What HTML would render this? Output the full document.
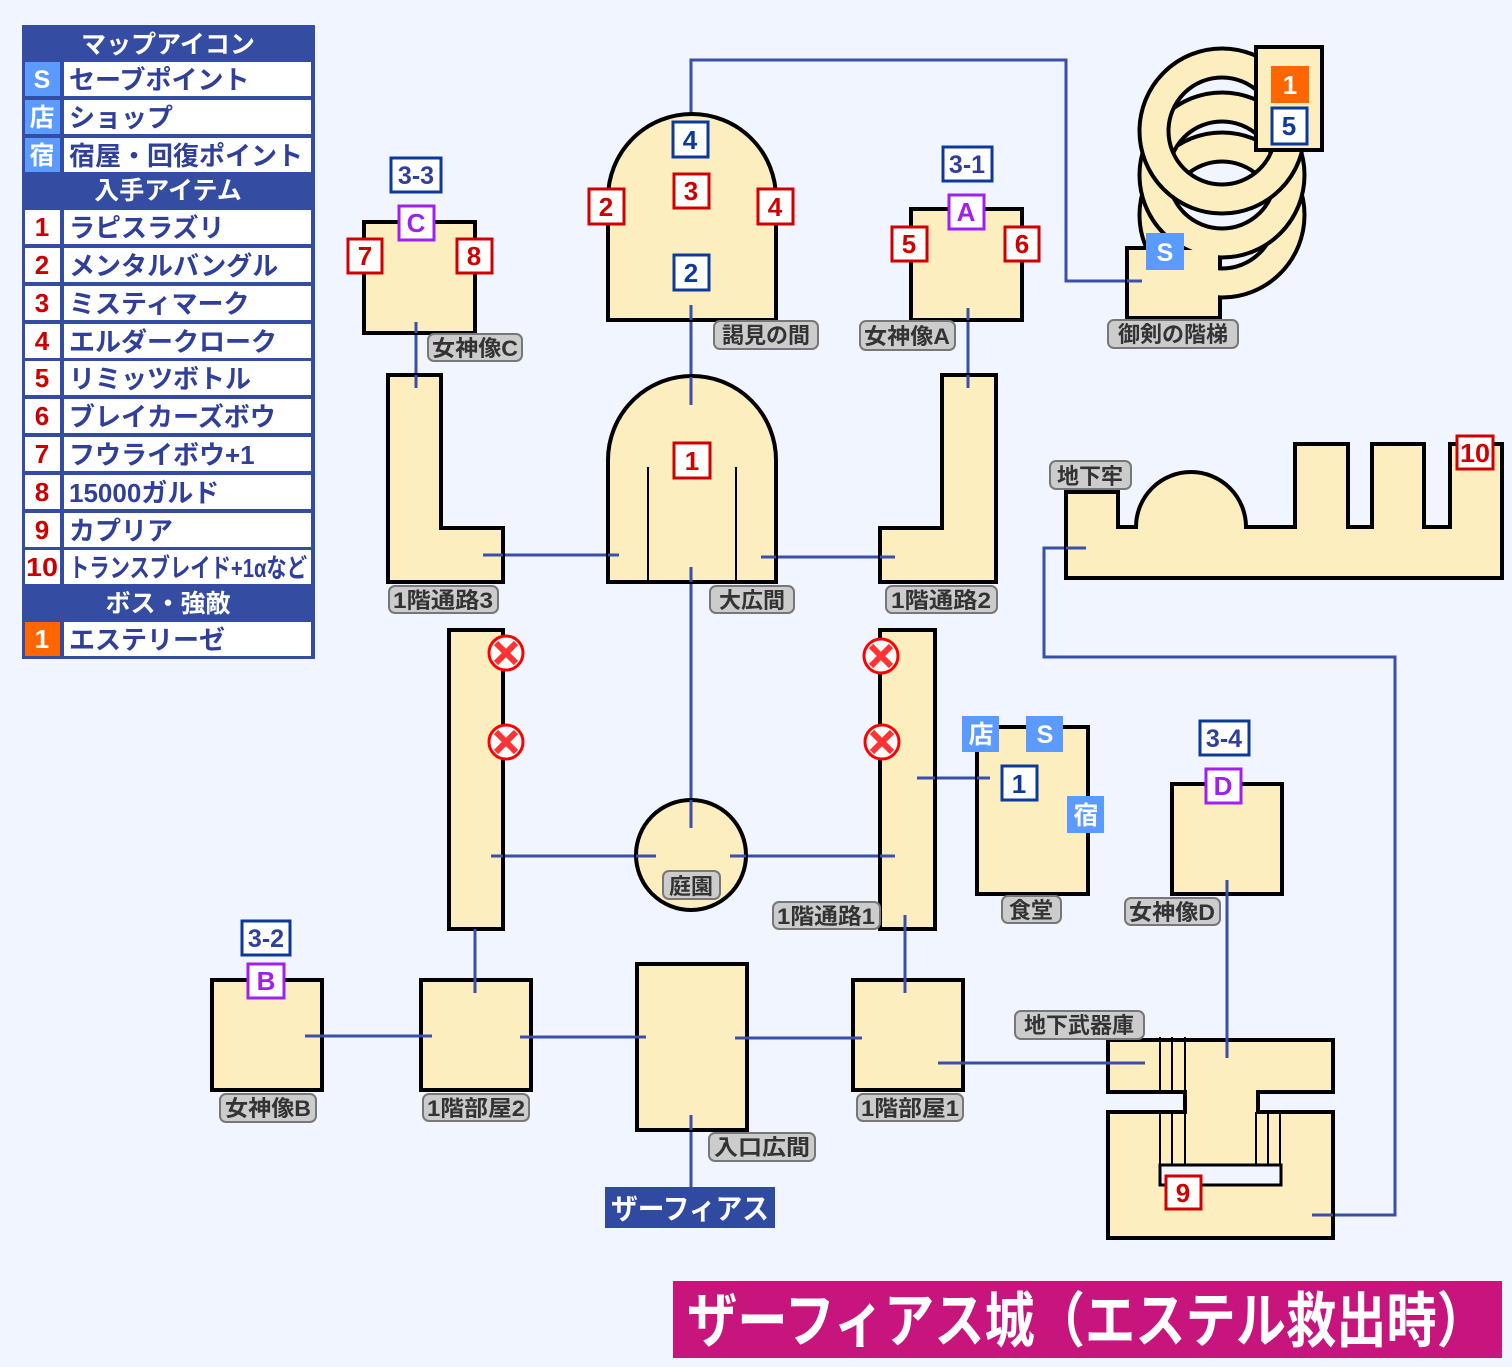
<!DOCTYPE html>
<html><head><meta charset="utf-8">
<style>
html,body{margin:0;padding:0;background:#f0f5ff;}
svg{display:block;}
text{font-family:"Liberation Sans","Noto Sans CJK JP",sans-serif;font-weight:bold;}
</style></head><body>
<svg width="1512" height="1367" viewBox="0 0 1512 1367" xmlns="http://www.w3.org/2000/svg">
<rect width="1512" height="1367" fill="#f0f5ff"/>

<!-- Legend -->
<rect x="22" y="25" width="293" height="634" fill="#344ca2"/>
<g font-size="25" fill="#ffffff" text-anchor="middle">
<text x="168" y="53">マップアイコン</text>
<text x="168" y="199">入手アイテム</text>
<text x="168" y="612">ボス・強敵</text>
</g>
<g fill="#ffffff">
<rect x="64" y="62" width="247" height="34"/>
<rect x="64" y="100" width="247" height="34"/>
<rect x="64" y="138" width="247" height="34"/>
</g>
<g fill="#5b9bff">
<rect x="25" y="62" width="35" height="34"/>
<rect x="25" y="100" width="35" height="34"/>
<rect x="25" y="138" width="35" height="34"/>
</g>
<g font-size="25" fill="#ffffff" text-anchor="middle">
<text x="42" y="88">S</text><text x="42" y="126">店</text><text x="42" y="164">宿</text>
</g>
<g font-size="26" fill="#2f3f9a">
<text x="69" y="89">セーブポイント</text>
<text x="69" y="127">ショップ</text>
<text x="69" y="165">宿屋・回復ポイント</text>
</g>
<g fill="#ffffff">
<rect x="25" y="210" width="35" height="34"/><rect x="64" y="210" width="247" height="34"/>
<rect x="25" y="248" width="35" height="34"/><rect x="64" y="248" width="247" height="34"/>
<rect x="25" y="286" width="35" height="34"/><rect x="64" y="286" width="247" height="34"/>
<rect x="25" y="324" width="35" height="34"/><rect x="64" y="324" width="247" height="34"/>
<rect x="25" y="361" width="35" height="34"/><rect x="64" y="361" width="247" height="34"/>
<rect x="25" y="399" width="35" height="34"/><rect x="64" y="399" width="247" height="34"/>
<rect x="25" y="437" width="35" height="34"/><rect x="64" y="437" width="247" height="34"/>
<rect x="25" y="475" width="35" height="34"/><rect x="64" y="475" width="247" height="34"/>
<rect x="25" y="513" width="35" height="34"/><rect x="64" y="513" width="247" height="34"/>
<rect x="25" y="550" width="35" height="34"/><rect x="64" y="550" width="247" height="34"/>
<rect x="64" y="622" width="247" height="34"/>
</g>
<rect x="25" y="622" width="35" height="34" fill="#ff6600"/>
<g font-size="26" fill="#cc0000" text-anchor="middle">
<text x="42" y="236">1</text><text x="42" y="274">2</text><text x="42" y="312">3</text>
<text x="42" y="350">4</text><text x="42" y="387">5</text><text x="42" y="425">6</text>
<text x="42" y="463">7</text><text x="42" y="501">8</text><text x="42" y="539">9</text>
<text x="42" y="576" textLength="32" lengthAdjust="spacingAndGlyphs">10</text>
</g>
<text x="42" y="648" font-size="26" fill="#fff" text-anchor="middle">1</text>
<g font-size="26" fill="#2f3f9a">
<text x="69" y="237">ラピスラズリ</text>
<text x="69" y="275">メンタルバングル</text>
<text x="69" y="313">ミスティマーク</text>
<text x="69" y="351">エルダークローク</text>
<text x="69" y="388">リミッツボトル</text>
<text x="69" y="426">ブレイカーズボウ</text>
<text x="69" y="464">フウライボウ+1</text>
<text x="69" y="502">15000ガルド</text>
<text x="69" y="540">カプリア</text>
<text x="69" y="577" textLength="238" lengthAdjust="spacingAndGlyphs">トランスブレイド+1αなど</text>
<text x="69" y="649">エステリーゼ</text>
</g>

<!-- Connectors -->
<g stroke="#3a4fa8" stroke-width="3" fill="none">
<polyline points="691,127 691,60 1066,60 1066,281 1142,281"/>
<line x1="691" y1="305" x2="691" y2="405"/>
<line x1="691" y1="567" x2="691" y2="828"/>
<line x1="416" y1="322" x2="416" y2="388"/>
<line x1="968" y1="308" x2="968" y2="388"/>
<line x1="483" y1="555" x2="619" y2="555"/>
<line x1="761" y1="557" x2="895" y2="557"/>
<line x1="491" y1="856" x2="656" y2="856"/>
<line x1="730" y1="856" x2="895" y2="856"/>
<line x1="917" y1="778" x2="990" y2="778"/>
<line x1="475" y1="929" x2="475" y2="993"/>
<line x1="905" y1="915" x2="905" y2="993"/>
<line x1="305" y1="1036" x2="432" y2="1036"/>
<line x1="520" y1="1037" x2="646" y2="1037"/>
<line x1="735" y1="1038" x2="862" y2="1038"/>
<line x1="938" y1="1063" x2="1145" y2="1063"/>
<line x1="1227" y1="880" x2="1227" y2="1058"/>
<polyline points="1086,548 1044,548 1044,657 1395,657 1395,1215 1312,1215"/>
<line x1="691" y1="1115" x2="691" y2="1190"/>
</g>

<!-- Rooms -->
<g fill="#fdeec0" stroke="#000" stroke-width="4">
<path d="M608,320 V198 A84,84 0 0 1 776,198 V320 Z"/>
<path d="M608,582 V460 A84,84 0 0 1 776,460 V582 Z"/>
<rect x="364" y="222" width="111" height="111"/>
<path d="M388,375 H441 V528 H503 V582 H388 Z"/>
<rect x="911" y="209" width="111" height="111"/>
<path d="M942,375 H996 V582 H880 V528 H942 Z"/>
<path d="M1066,578 V492 H1118 V527 H1136 A55,55 0 0 1 1246,527 H1295 V444 H1348 V527 H1372 V444 H1424 V527 H1450 V444 H1502 V578 Z"/>
<rect x="449" y="630" width="54" height="299"/>
<rect x="880" y="630" width="55" height="299"/>
<circle cx="691" cy="855" r="55"/>
<rect x="977" y="727" width="111" height="167"/>
<rect x="1172" y="784" width="110" height="110"/>
<rect x="212" y="980" width="110" height="110"/>
<rect x="421" y="980" width="110" height="110"/>
<rect x="637" y="964" width="110" height="166"/>
<rect x="853" y="980" width="110" height="110"/>
<path d="M1108,1040 H1333 V1092 H1258 V1112 H1333 V1238 H1108 V1112 H1185 V1092 H1108 Z"/>
</g>
<rect x="1160" y="1165" width="121" height="20" fill="#f0f5ff" stroke="#000" stroke-width="3"/>
<g stroke="#000" stroke-width="2">
<line x1="648" y1="467" x2="648" y2="582"/><line x1="736" y1="467" x2="736" y2="582"/>
<line x1="1160" y1="1037" x2="1160" y2="1092"/><line x1="1172" y1="1037" x2="1172" y2="1092"/><line x1="1185" y1="1037" x2="1185" y2="1092"/>
<line x1="1160" y1="1112" x2="1160" y2="1165"/><line x1="1172" y1="1112" x2="1172" y2="1165"/><line x1="1185" y1="1112" x2="1185" y2="1165"/>
<line x1="1256" y1="1112" x2="1256" y2="1165"/><line x1="1268" y1="1112" x2="1268" y2="1165"/><line x1="1280" y1="1112" x2="1280" y2="1165"/>
</g>
<g stroke="#3a4fa8" stroke-width="3">
<line x1="691" y1="305" x2="691" y2="320"/>
<line x1="691" y1="377" x2="691" y2="405"/>
<line x1="691" y1="567" x2="691" y2="582"/>
<line x1="691" y1="800" x2="691" y2="828"/>
<line x1="416" y1="322" x2="416" y2="333"/><line x1="416" y1="375" x2="416" y2="388"/>
<line x1="968" y1="308" x2="968" y2="320"/><line x1="968" y1="375" x2="968" y2="388"/>
<line x1="483" y1="555" x2="503" y2="555"/><line x1="608" y1="555" x2="619" y2="555"/>
<line x1="761" y1="557" x2="776" y2="557"/><line x1="880" y1="557" x2="895" y2="557"/>
<line x1="491" y1="856" x2="503" y2="856"/><line x1="636" y1="856" x2="656" y2="856"/>
<line x1="730" y1="856" x2="746" y2="856"/><line x1="880" y1="856" x2="895" y2="856"/>
<line x1="917" y1="778" x2="935" y2="778"/><line x1="977" y1="778" x2="990" y2="778"/>
<line x1="475" y1="929" x2="475" y2="993"/><line x1="905" y1="915" x2="905" y2="993"/>
<line x1="305" y1="1036" x2="432" y2="1036"/><line x1="520" y1="1037" x2="646" y2="1037"/>
<line x1="735" y1="1038" x2="862" y2="1038"/><line x1="938" y1="1063" x2="1145" y2="1063"/>
<line x1="1227" y1="880" x2="1227" y2="1058"/>
<line x1="1066" y1="548" x2="1086" y2="548"/><line x1="1312" y1="1215" x2="1333" y2="1215"/>
<line x1="691" y1="1115" x2="691" y2="1130"/>
</g>

<!-- Spiral staircase -->
<g>
<path d="M1127,318 V248 H1220 V318 Z" fill="#fdeec0" stroke="#000" stroke-width="4"/>
<circle cx="1222" cy="215" r="68" fill="none" stroke="#000" stroke-width="33"/>
<circle cx="1222" cy="215" r="68" fill="none" stroke="#fdeec0" stroke-width="25"/>
<circle cx="1222" cy="175" r="68" fill="none" stroke="#000" stroke-width="33"/>
<circle cx="1222" cy="175" r="68" fill="none" stroke="#fdeec0" stroke-width="25"/>
<circle cx="1222" cy="131" r="68" fill="none" stroke="#000" stroke-width="33"/>
<circle cx="1222" cy="131" r="68" fill="none" stroke="#fdeec0" stroke-width="25"/>
<rect x="1129" y="250" width="89" height="66" fill="#fdeec0"/>
<rect x="1256" y="47" width="66" height="103" fill="#fdeec0" stroke="#000" stroke-width="4"/>
</g>
<line x1="1127" y1="281" x2="1142" y2="281" stroke="#3a4fa8" stroke-width="3"/>

<!-- Labels -->
<g fill="#cccccc" stroke="#777" stroke-width="2">
<rect x="428" y="334" width="94" height="27" rx="6"/>
<rect x="714" y="321" width="104" height="28" rx="6"/>
<rect x="860" y="321" width="95" height="29" rx="6"/>
<rect x="1108" y="320" width="130" height="28" rx="6"/>
<rect x="1050" y="461" width="81" height="28" rx="6"/>
<rect x="389" y="586" width="109" height="27" rx="6"/>
<rect x="710" y="586" width="84" height="27" rx="6"/>
<rect x="886" y="586" width="111" height="27" rx="6"/>
<rect x="663" y="871" width="57" height="28" rx="6"/>
<rect x="773" y="902" width="107" height="27" rx="6"/>
<rect x="1002" y="896" width="59" height="27" rx="6"/>
<rect x="1125" y="898" width="95" height="27" rx="6"/>
<rect x="220" y="1094" width="96" height="28" rx="6"/>
<rect x="423" y="1094" width="106" height="27" rx="6"/>
<rect x="857" y="1094" width="106" height="27" rx="6"/>
<rect x="709" y="1133" width="106" height="28" rx="6"/>
<rect x="1015" y="1011" width="129" height="28" rx="6"/>
</g>
<g font-size="22" fill="#333" text-anchor="middle">
<text x="475" y="356" textLength="86" lengthAdjust="spacingAndGlyphs">女神像C</text>
<text x="766" y="343">謁見の間</text>
<text x="907" y="344" textLength="86" lengthAdjust="spacingAndGlyphs">女神像A</text>
<text x="1173" y="342">御剣の階梯</text>
<text x="1090" y="484">地下牢</text>
<text x="443" y="608" textLength="100" lengthAdjust="spacingAndGlyphs">1階通路3</text>
<text x="752" y="608">大広間</text>
<text x="941" y="608" textLength="100" lengthAdjust="spacingAndGlyphs">1階通路2</text>
<text x="691" y="894">庭園</text>
<text x="826" y="924" textLength="98" lengthAdjust="spacingAndGlyphs">1階通路1</text>
<text x="1031" y="918">食堂</text>
<text x="1172" y="920" textLength="86" lengthAdjust="spacingAndGlyphs">女神像D</text>
<text x="268" y="1116" textLength="86" lengthAdjust="spacingAndGlyphs">女神像B</text>
<text x="476" y="1116" textLength="98" lengthAdjust="spacingAndGlyphs">1階部屋2</text>
<text x="910" y="1116" textLength="98" lengthAdjust="spacingAndGlyphs">1階部屋1</text>
<text x="762" y="1155" textLength="96" lengthAdjust="spacingAndGlyphs">入口広間</text>
<text x="1079" y="1033">地下武器庫</text>
</g>

<!-- Red item markers -->
<g fill="#fff" stroke="#d00000" stroke-width="3">
<rect x="589" y="189" width="35" height="35"/>
<rect x="674" y="174" width="35" height="34"/>
<rect x="758" y="189" width="35" height="35"/>
<rect x="348" y="239" width="34" height="34"/>
<rect x="457" y="239" width="35" height="34"/>
<rect x="892" y="227" width="35" height="34"/>
<rect x="1005" y="227" width="34" height="34"/>
<rect x="674" y="443" width="36" height="35"/>
<rect x="1457" y="436" width="36" height="33"/>
<rect x="1166" y="1176" width="35" height="33"/>
</g>
<g font-size="26" fill="#d00000" text-anchor="middle">
<text x="606" y="216">2</text><text x="691" y="200">3</text><text x="775" y="216">4</text>
<text x="365" y="265">7</text><text x="474" y="265">8</text>
<text x="909" y="253">5</text><text x="1022" y="253">6</text>
<text x="692" y="470">1</text>
<text x="1475" y="462" textLength="30" lengthAdjust="spacingAndGlyphs">10</text>
<text x="1183" y="1202">9</text>
</g>
<!-- Blue markers -->
<g fill="#fff" stroke="#0b3a9a" stroke-width="3">
<rect x="673" y="122" width="35" height="35"/>
<rect x="674" y="255" width="35" height="35"/>
<rect x="1272" y="108" width="35" height="36"/>
<rect x="1002" y="766" width="35" height="34"/>
<rect x="391" y="158" width="50" height="34"/>
<rect x="943" y="147" width="49" height="34"/>
<rect x="242" y="921" width="48" height="34"/>
<rect x="1200" y="721" width="49" height="34"/>
</g>
<g font-size="26" fill="#0b3a9a" text-anchor="middle">
<text x="690" y="149">4</text><text x="691" y="282">2</text>
<text x="1289" y="135">5</text><text x="1019" y="793">1</text>
</g>
<g font-size="25" fill="#2f3f9a" text-anchor="middle">
<text x="416" y="184">3-3</text><text x="967" y="173">3-1</text>
<text x="266" y="947">3-2</text><text x="1224" y="747">3-4</text>
</g>
<rect x="1271" y="66" width="38" height="37" fill="#ff6600"/>
<text x="1290" y="94" font-size="26" fill="#fff" text-anchor="middle">1</text>
<!-- Purple markers -->
<g fill="#fff" stroke="#a020f0" stroke-width="3">
<rect x="399" y="206" width="35" height="34"/>
<rect x="949" y="195" width="35" height="34"/>
<rect x="248" y="964" width="36" height="34"/>
<rect x="1206" y="769" width="35" height="34"/>
</g>
<g font-size="26" fill="#a020f0" text-anchor="middle">
<text x="416" y="232">C</text><text x="966" y="221">A</text>
<text x="266" y="990">B</text><text x="1223" y="795">D</text>
</g>
<!-- Light blue service icons -->
<g fill="#5b9bff">
<rect x="1146" y="233" width="38" height="37"/>
<rect x="962" y="716" width="37" height="36"/>
<rect x="1026" y="716" width="37" height="36"/>
<rect x="1067" y="796" width="37" height="37"/>
</g>
<g font-size="25" fill="#fff" text-anchor="middle">
<text x="1165" y="261">S</text><text x="981" y="743">店</text>
<text x="1045" y="743">S</text><text x="1086" y="824">宿</text>
</g>

<!-- Red X markers -->
<g>
<g transform="translate(506,653)"><circle r="17" fill="#fff" stroke="#f00" stroke-width="3"/><path d="M-10,-10 L10,10 M10,-10 L-10,10" stroke="#f33" stroke-width="6"/></g>
<g transform="translate(506,742)"><circle r="17" fill="#fff" stroke="#f00" stroke-width="3"/><path d="M-10,-10 L10,10 M10,-10 L-10,10" stroke="#f33" stroke-width="6"/></g>
<g transform="translate(881,656)"><circle r="17" fill="#fff" stroke="#f00" stroke-width="3"/><path d="M-10,-10 L10,10 M10,-10 L-10,10" stroke="#f33" stroke-width="6"/></g>
<g transform="translate(882,742)"><circle r="17" fill="#fff" stroke="#f00" stroke-width="3"/><path d="M-10,-10 L10,10 M10,-10 L-10,10" stroke="#f33" stroke-width="6"/></g>
</g>

<!-- Entrance label -->
<rect x="605" y="1187" width="170" height="41" fill="#2f4aa0"/>
<text x="690" y="1219" font-size="29" fill="#fff" text-anchor="middle" textLength="158" lengthAdjust="spacingAndGlyphs">ザーフィアス</text>

<!-- Title -->
<rect x="673" y="1281" width="829" height="77" fill="#c8157e"/>
<text x="1087" y="1342" font-size="60" fill="#fff" text-anchor="middle" textLength="800" lengthAdjust="spacingAndGlyphs">ザーフィアス城（エステル救出時）</text>
</svg>
</body></html>
